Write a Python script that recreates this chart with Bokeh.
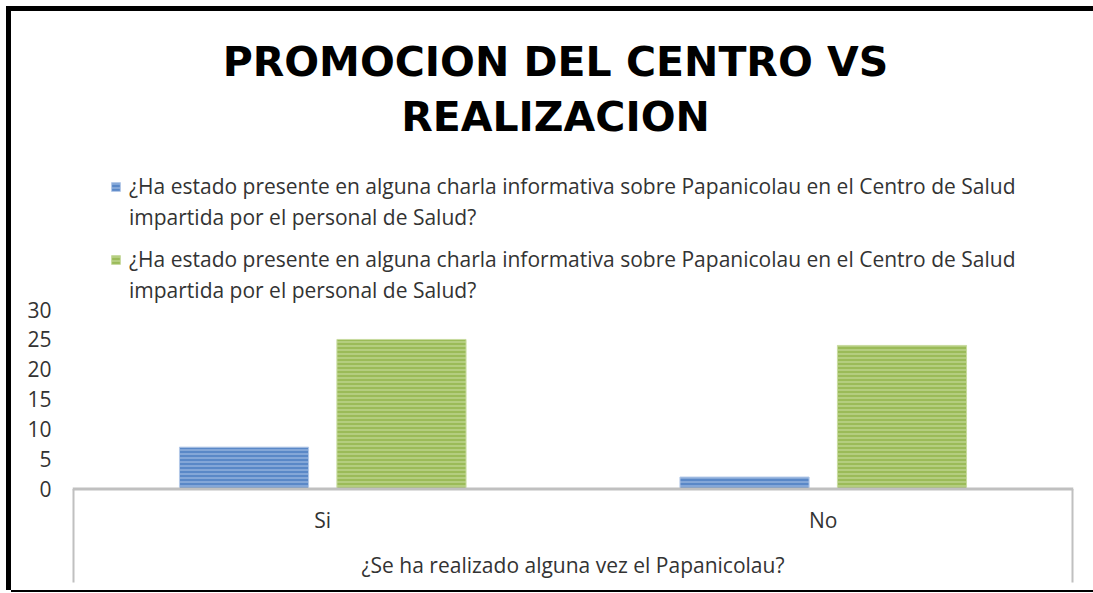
from bokeh.plotting import figure
from bokeh.models import (FactorRange, Range1d, FixedTicker, Label, Legend,
                          LegendItem, ColumnDataSource, Span)
from bokeh.transform import dodge
from bokeh.core.properties import value
from bokeh.embed import file_html
from bokeh.resources import INLINE

# ---- data ----
categories = ["Si", "No"]
serie_charla = [7, 2]
serie_realizacion = [25, 24]
y_ticks = [0, 5, 10, 15, 20, 25, 30]
title_text = "PROMOCION DEL CENTRO VS\nREALIZACION"
legend_line1 = "¿Ha estado presente en alguna charla informativa sobre Papanicolau en el Centro de Salud"
legend_line2 = "impartida por el personal de Salud?"
x_title = "¿Se ha realizado alguna vez el Papanicolau?"

FONT = "Open Sans"
FS = "21px"
TXT = "#333333"
GRAY = "#c0c0c0"

W, H = 1082, 579
p = figure(width=W, height=H,
           x_range=FactorRange(factors=categories, range_padding=0),
           y_range=Range1d(-16.96, 79.81),
           output_backend="svg", toolbar_location=None,
           x_axis_location=None,
           min_border_left=61, min_border_right=20,
           min_border_top=0, min_border_bottom=0)
# chart frame: thick black left/top edges, thin bottom edge (drawn as shadows,
# so they do not change the layout)
p.styles = {"margin-left": "11px", "margin-top": "11px",
            "box-shadow": "0 -5px 0 0 #000, -5px 0 0 0 #000, "
                          "-5px -5px 0 0 #000, 0 2px 0 0 #000"}
p.grid.visible = False
p.outline_line_color = None
p.background_fill_color = "white"
p.border_fill_color = "white"

ax = p.yaxis[0]
ax.ticker = FixedTicker(ticks=y_ticks)
ax.axis_line_color = None
ax.major_tick_line_color = None
ax.minor_tick_line_color = None
ax.major_label_standoff = 15
ax.major_label_text_font = FONT
ax.major_label_text_font_size = FS
ax.major_label_text_color = TXT

src = ColumnDataSource(dict(cat=categories, charla=serie_charla,
                            realiz=serie_realizacion))

r1 = p.vbar(x=dodge("cat", -0.1573, range=p.x_range), top="charla", width=0.258,
            source=src, fill_color="#5a88c7", line_color="#b4c9e8", line_width=1,
            hatch_pattern="horizontal_line", hatch_color="#adc5e8",
            hatch_scale=4, hatch_weight=1)
r2 = p.vbar(x=dodge("cat", 0.1573, range=p.x_range), top="realiz", width=0.258,
            source=src, fill_color="#9bbb59", line_color="#c8dba0", line_width=1,
            hatch_pattern="horizontal_line", hatch_color="#cde0a5",
            hatch_scale=4, hatch_weight=1)

dummy = p.vbar(x=[], top=[], width=0.1, fill_alpha=0, line_alpha=0)

# category axis base line and separators
p.add_layout(Span(location=0, dimension="width", line_color=GRAY, line_width=3))
p.segment(x0=[(categories[0], -0.499), (categories[-1], 0.499)],
          x1=[(categories[0], -0.499), (categories[-1], 0.499)],
          y0=[0, 0], y1=[-15.63, -15.63], line_color=GRAY, line_width=3)

# category labels
p.text(x=categories, y=[-5.2] * len(categories), text=categories,
       text_align="center", text_baseline="middle", text_font=value(FONT),
       text_font_size=FS, text_color=TXT)

p.add_layout(Label(x=1.0, y=-12.7, text=x_title, text_align="center",
                   text_baseline="middle", text_font=FONT,
                   text_font_size=FS, text_color=TXT))

p.add_layout(Label(x=0.965, y=75.46, text=title_text, text_align="center",
                   text_baseline="top", text_font="DejaVu Sans",
                   text_font_style="bold", text_font_size="41px",
                   text_color="#000000", text_line_height=1.15))

def make_legend(r, loc):
    return Legend(items=[LegendItem(label=legend_line1, renderers=[r]),
                         LegendItem(label=legend_line2, renderers=[dummy])],
                  location=loc, orientation="vertical", padding=0, margin=0,
                  spacing=3, label_height=24, glyph_width=11, glyph_height=11,
                  label_standoff=8, border_line_color=None,
                  background_fill_alpha=0, label_text_font=FONT,
                  label_text_font_size=FS, label_text_color=TXT)

p.add_layout(make_legend(r1, (38, 359)))
p.add_layout(make_legend(r2, (38, 286)))

open("out.html", "w").write(file_html(p, INLINE))
